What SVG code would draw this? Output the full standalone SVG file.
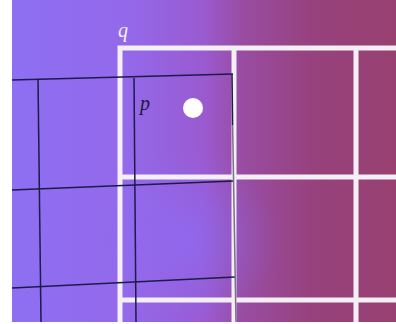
<svg xmlns="http://www.w3.org/2000/svg" width="396" height="324" viewBox="0 0 396 324">
  <defs>
    <linearGradient id="bg" x1="12" y1="0" x2="396" y2="0" gradientUnits="userSpaceOnUse">
      <stop offset="0" stop-color="#8e6ff2"/>
      <stop offset="0.3" stop-color="#9369ea"/>
      <stop offset="0.5" stop-color="#9a5ad0"/>
      <stop offset="0.6" stop-color="#994ca2"/>
      <stop offset="0.78" stop-color="#97427e"/>
      <stop offset="1" stop-color="#984070"/>
    </linearGradient>
    <radialGradient id="glow" cx="190" cy="240" r="90" gradientUnits="userSpaceOnUse">
      <stop offset="0" stop-color="#8a70ff" stop-opacity="0.55"/>
      <stop offset="1" stop-color="#8a70ff" stop-opacity="0"/>
    </radialGradient>
    <filter id="soft" x="-5%" y="-5%" width="110%" height="110%">
      <feGaussianBlur stdDeviation="0.6"/>
    </filter>
  </defs>
  <style>
    .white { stroke: #f4eff4; stroke-width: 5; fill: none; }
    .black { stroke: #1c1a4c; stroke-width: 1.5; fill: none; }
    .grey { stroke: #7a7088; stroke-width: 1.5; fill: none; }
    .lbl { font-family: "Liberation Serif", serif; font-style: italic; font-size: 20px; }
  </style>
  <rect x="0" y="0" width="396" height="324" fill="#ffffff"/>
  <rect x="12" y="0" width="384" height="322" fill="url(#bg)"/>
  <rect x="12" y="0" width="384" height="322" fill="url(#glow)"/>
  <g id="connectors" filter="url(#soft)">
    <g id="white-grid">
      <path class="white" d="M120,322 V48 H396"/>
      <path class="white" d="M234,48 V322"/>
      <path class="white" d="M356,48 V322"/>
      <path class="white" d="M120,177 H396"/>
      <path class="white" d="M120,300 H396"/>
    </g>
    <g id="black-grid">
      <path class="black" d="M12,80 L233,74"/>
      <path class="black" d="M12,190 L234,181"/>
      <path class="black" d="M12,288 L235,277"/>
      <path class="black" d="M38,79 L41,322"/>
      <path class="black" d="M134,78 L136,322"/>
      <path class="black" d="M232,74 L232.6,125"/>
      <path class="grey" d="M232.6,125 L236,322"/>
    </g>
  </g>
  <g id="q">
    <text class="lbl" x="118" y="37" fill="#f4eff4">q</text>
  </g>
  <g id="p">
    <text class="lbl" x="140" y="110" fill="#1c1a3c">p</text>
  </g>
  <g id="dot">
    <circle cx="193" cy="108" r="10" fill="#ffffff" filter="url(#soft)"/>
  </g>
</svg>
